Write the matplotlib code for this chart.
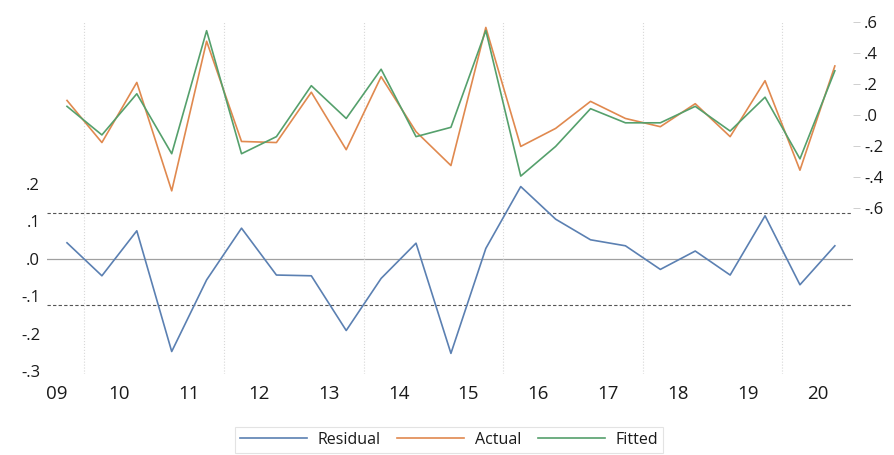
import numpy as np
import matplotlib.pyplot as plt
from matplotlib.lines import Line2D

plt.rcParams['font.family'] = ['Open Sans', 'DejaVu Sans']

# semiannual observations, 2009H2 .. 2020H2
residual = [0.043, -0.045, 0.075, -0.247, -0.056, 0.082, -0.043, -0.045,
            -0.191, -0.052, 0.042, -0.252, 0.028, 0.193, 0.106, 0.051,
            0.035, -0.028, 0.021, -0.043, 0.115, -0.069, 0.035]
actual = [0.095, -0.176, 0.211, -0.487, 0.476, -0.169, -0.176, 0.148,
          -0.222, 0.248, -0.106, -0.324, 0.565, -0.201, -0.085, 0.089,
          -0.021, -0.074, 0.074, -0.138, 0.222, -0.354, 0.317]
fitted = [0.057, -0.127, 0.138, -0.248, 0.544, -0.248, -0.138, 0.190,
          -0.021, 0.296, -0.138, -0.078, 0.545, -0.392, -0.201, 0.042,
          -0.049, -0.049, 0.057, -0.102, 0.116, -0.281, 0.286]
years = ['09', '10', '11', '12', '13', '14', '15', '16', '17', '18', '19', '20']
resid_se = 0.122

c_res = '#5b80b2'
c_act = '#e0894f'
c_fit = '#55a06c'

x = np.arange(len(residual))

fig = plt.figure(figsize=(8.94, 4.55), dpi=100)
ax = fig.add_axes([47 / 894, 1 - 374 / 455, 806 / 894, 352 / 455])
ax2 = ax.twinx()

# residual panel on the left scale
ax.axhline(0, color='#a0a0a0', lw=0.9)
ax.axhline(resid_se, color='#555555', lw=0.8, ls=(0, (3, 2)))
ax.axhline(-resid_se, color='#555555', lw=0.8, ls=(0, (3, 2)))
for g in np.arange(0.5, len(x), 4):
    ax.axvline(g, color='#d8d8d8', lw=0.8, ls=':')
ax.plot(x, residual, color=c_res, lw=1.2)

# actual / fitted on the right scale
ax2.plot(x, actual, color=c_act, lw=1.2)
ax2.plot(x, fitted, color=c_fit, lw=1.2)

ax.set_xlim(-0.573, 22.52)
ax.set_ylim(-0.307, 0.632)
ax2.set_ylim(-1.666, 0.598)

ax.set_yticks([0.2, 0.1, 0.0, -0.1, -0.2, -0.3])
ax.set_yticklabels(['.2', '.1', '.0', '-.1', '-.2', '-.3'])
ax2.set_yticks([0.6, 0.4, 0.2, 0.0, -0.2, -0.4, -0.6])
ax2.set_yticklabels(['.6', '.4', '.2', '.0', '-.2', '-.4', '-.6'])

xt = [-0.3] + [(int(y) - 10) * 2 + 1.5 for y in years[1:]]
ax.set_xticks(xt)
ax.set_xticklabels(years)

for a in (ax, ax2):
    for s in a.spines.values():
        s.set_visible(False)
ax.tick_params(axis='y', length=0, pad=5, labelsize=12, labelcolor='#1a1a1a')
ax.tick_params(axis='x', length=0, pad=8, labelsize=13.5, labelcolor='#1a1a1a')
ax2.tick_params(axis='y', length=5, width=0.6, color='#c8c8c8', pad=3,
                labelsize=12, labelcolor='#1a1a1a')

handles = [Line2D([], [], color=c_res, lw=1.2),
           Line2D([], [], color=c_act, lw=1.2),
           Line2D([], [], color=c_fit, lw=1.2)]
leg = fig.legend(handles, ['Residual', 'Actual', 'Fitted'], loc='center',
                 bbox_to_anchor=(449 / 894, 1 - 440 / 455), ncol=3,
                 fontsize=11.5, handlelength=4.2, columnspacing=1.0,
                 handletextpad=0.7, fancybox=False, borderpad=0.3,
                 edgecolor='#dddddd', labelcolor='#1a1a1a')
leg.get_frame().set_linewidth(0.8)

fig.savefig('out.png', dpi=100)
